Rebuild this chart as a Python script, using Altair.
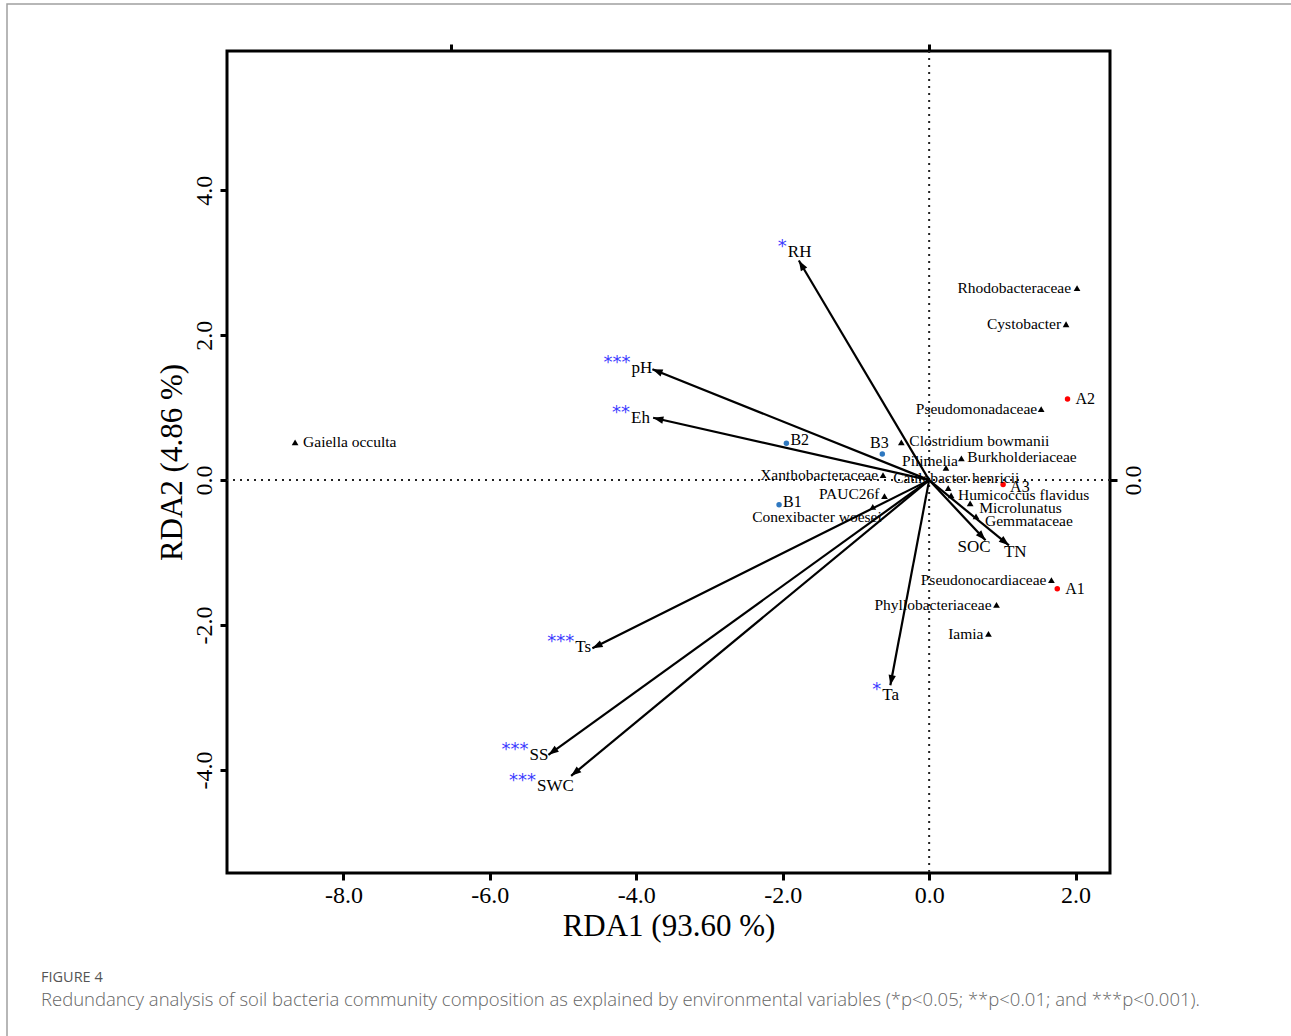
import math
import pandas as pd
import altair as alt

# ---------------- data ----------------
env_names = ["RH", "pH", "Eh", "Ts", "SS", "SWC", "Ta", "SOC", "TN"]
env_x = [-1.78, -3.78, -3.77, -4.60, -5.20, -4.89, -0.53, 0.77, 1.09]
env_y = [3.03, 1.53, 0.86, -2.32, -3.79, -4.08, -2.83, -0.83, -0.90]
env_sig = ["*", "***", "**", "***", "***", "***", "*", "", ""]

site_names = ["A1", "A2", "A3", "B1", "B2", "B3"]
site_x = [1.75, 1.89, 1.01, -2.05, -1.95, -0.64]
site_y = [-1.50, 1.12, -0.06, -0.34, 0.51, 0.36]
site_group = ["A", "A", "A", "B", "B", "B"]

sp_names = ["Gaiella occulta", "Rhodobacteraceae", "Cystobacter", "Pseudomonadaceae",
            "Clostridium bowmanii", "Burkholderiaceae", "Pilimelia", "Xanthobacteraceae",
            "Caulobacter henricii", "PAUC26f", "Conexibacter woesei", "Humicoccus flavidus",
            "Microlunatus", "Gemmataceae", "Pseudonocardiaceae", "Phyllobacteriaceae", "Iamia"]
sp_x = [-8.66, 2.02, 1.87, 1.53, -0.38, 0.44, 0.23, -0.63, 0.26, -0.61, -0.77, 0.30,
        0.56, 0.64, 1.67, 0.92, 0.81]
sp_y = [0.52, 2.65, 2.15, 0.98, 0.52, 0.30, 0.17, 0.07, -0.11, -0.22, -0.37, -0.21,
        -0.32, -0.50, -1.38, -1.72, -2.12]

x_ticks = [-8, -6, -4, -2, 0, 2]
y_ticks = [-4, -2, 0, 2, 4]
top_ticks = [-6.53, 0]

x_title = "RDA1 (93.60 %)"
y_title = "RDA2 (4.86 %)"
caption_head = "FIGURE 4"
caption = ("Redundancy analysis of soil bacteria community composition as explained by "
           "environmental variables (*p<0.05; **p<0.01; and ***p<0.001).")

# ---------------- layout / style ----------------
W, H = 883, 822
XMIN, XMAX = -9.59, 2.47
YMIN, YMAX = -5.42, 5.92
PXX = W / (XMAX - XMIN)
PXY = H / (YMAX - YMIN)
SERIF = "Liberation Serif"
STAR_BLUE = "#3c3cff"

# label nudges in pixels (dx right, dy down)
env_nudge = {"RH": (-11, -8), "pH": (-21, -1), "Eh": (-22, 0), "Ts": (-17, -1),
             "SS": (-19, 0), "SWC": (-34, 10), "Ta": (-8, 10), "SOC": (-28, 7),
             "TN": (-5, 7)}
site_place = {"A1": ("left", 8, 0), "A2": ("left", 8, 0), "A3": ("left", 7, 3),
              "B1": ("left", 4, -3), "B2": ("left", 4, -3), "B3": ("center", -3, -11)}
sp_place = {"Gaiella occulta": ("left", 8, 0), "Rhodobacteraceae": ("right", -6, 0),
            "Cystobacter": ("right", -5, 0), "Pseudomonadaceae": ("right", -4, 0),
            "Clostridium bowmanii": ("left", 8, -1), "Burkholderiaceae": ("left", 6, -1),
            "Pilimelia": ("right", 12, -7), "Xanthobacteraceae": ("right", -5, 0),
            "Caulobacter henricii": ("center", 8, -10), "PAUC26f": ("right", -5, -2),
            "Conexibacter woesei": ("right", 9, 10), "Humicoccus flavidus": ("left", 7, 0),
            "Microlunatus": ("left", 9, 5), "Gemmataceae": ("left", 9, 5),
            "Pseudonocardiaceae": ("right", -5, 0), "Phyllobacteriaceae": ("right", -5, 0),
            "Iamia": ("right", -5, 0)}

# ---------------- tables ----------------
env = pd.DataFrame({"name": env_names, "x": env_x, "y": env_y, "sig": env_sig})
env["x0"] = 0.0
env["y0"] = 0.0
env["ang"] = [math.degrees(math.atan2(a * PXX, b * PXY)) % 360 for a, b in zip(env_x, env_y)]
env["lx"] = [a + env_nudge[n][0] / PXX for a, n in zip(env_x, env_names)]
env["ly"] = [b - env_nudge[n][1] / PXY for b, n in zip(env_y, env_names)]

sites = pd.DataFrame({"name": site_names, "x": site_x, "y": site_y, "grp": site_group})
sites["align"] = [site_place[n][0] for n in site_names]
sites["lx"] = [a + site_place[n][1] / PXX for a, n in zip(site_x, site_names)]
sites["ly"] = [b - site_place[n][2] / PXY for b, n in zip(site_y, site_names)]

sp = pd.DataFrame({"name": sp_names, "x": sp_x, "y": sp_y})
sp["align"] = [sp_place[n][0] for n in sp_names]
sp["lx"] = [a + sp_place[n][1] / PXX for a, n in zip(sp_x, sp_names)]
sp["ly"] = [b - sp_place[n][2] / PXY for b, n in zip(sp_y, sp_names)]

xs = alt.Scale(domain=[XMIN, XMAX], nice=False, zero=False)
ys = alt.Scale(domain=[YMIN, YMAX], nice=False, zero=False)

fmt = "replace(format(datum.value, '.1f'), '\u2212', '-')"

x_axis = alt.Axis(values=x_ticks, labelExpr=fmt, grid=False, domain=False,
                  tickSize=7, tickWidth=3, tickColor="black",
                  labelFont=SERIF, labelFontSize=24, labelColor="black", labelPadding=3,
                  title=x_title, titleFont=SERIF, titleFontSize=31, titleFontWeight="normal",
                  titleColor="black", titlePadding=4)
y_axis = alt.Axis(values=y_ticks, labelExpr=fmt, grid=False, domain=False,
                  tickSize=7, tickWidth=3, tickColor="black",
                  labelFont=SERIF, labelFontSize=24, labelColor="black", labelPadding=4,
                  labelAngle=270, labelAlign="center", labelBaseline="bottom",
                  title=y_title, titleFont=SERIF, titleFontSize=31, titleFontWeight="normal",
                  titleColor="black", titlePadding=4)
top_axis = alt.Axis(orient="top", values=top_ticks, labels=False, grid=False, domain=False,
                    tickSize=7, tickWidth=3, tickColor="black", title=None)
right_axis = alt.Axis(orient="right", values=[0], labelExpr=fmt, grid=False, domain=False,
                      tickSize=7, tickWidth=3, tickColor="black",
                      labelFont=SERIF, labelFontSize=24, labelColor="black", labelPadding=4,
                      labelAngle=270, labelAlign="center", labelBaseline="top", title=None)

NOAX = None

vline = alt.Chart(pd.DataFrame({"x": [0.0]})).mark_rule(
    color="#222", strokeWidth=2, strokeDash=[2, 5]
).encode(x=alt.X("x:Q", scale=xs, axis=x_axis))

hline = alt.Chart(pd.DataFrame({"y": [0.0]})).mark_rule(
    color="#222", strokeWidth=2, strokeDash=[2, 5]
).encode(y=alt.Y("y:Q", scale=ys, axis=y_axis))

second_axes = alt.Chart(pd.DataFrame({"x": [0.0], "y": [0.0]})).mark_point(opacity=0).encode(
    x=alt.X("x:Q", scale=xs, axis=top_axis),
    y=alt.Y("y:Q", scale=ys, axis=right_axis),
)

arrows = alt.Chart(env).mark_rule(color="black", strokeWidth=2.2).encode(
    x=alt.X("x0:Q", scale=xs, axis=NOAX), y=alt.Y("y0:Q", scale=ys, axis=NOAX),
    x2="x:Q", y2="y:Q",
)
heads = alt.Chart(env).mark_point(
    shape="M0,0L-0.36,1L0.36,1Z", filled=True, color="black", opacity=1, size=420
).encode(
    x=alt.X("x:Q", scale=xs, axis=NOAX), y=alt.Y("y:Q", scale=ys, axis=NOAX),
    angle=alt.Angle("ang:Q", scale=None),
)
env_labels = alt.Chart(env).mark_text(
    font=SERIF, fontSize=17, color="black", align="left", baseline="middle"
).encode(
    x=alt.X("lx:Q", scale=xs, axis=NOAX), y=alt.Y("ly:Q", scale=ys, axis=NOAX), text="name:N"
)
env_stars = alt.Chart(env).mark_text(
    font="DejaVu Sans", fontSize=18, color=STAR_BLUE, align="right", baseline="middle", dy=-5, dx=-1
).encode(
    x=alt.X("lx:Q", scale=xs, axis=NOAX), y=alt.Y("ly:Q", scale=ys, axis=NOAX), text="sig:N"
)

site_pts = alt.Chart(sites).mark_circle(size=30, opacity=1).encode(
    x=alt.X("x:Q", scale=xs, axis=NOAX), y=alt.Y("y:Q", scale=ys, axis=NOAX),
    color=alt.Color("grp:N", scale=alt.Scale(domain=["A", "B"], range=["#ff0000", "#2e78c0"]),
                    legend=None),
)

sp_pts = alt.Chart(sp).mark_point(shape="triangle-up", filled=True, size=45, color="black",
                                   opacity=1).encode(
    x=alt.X("x:Q", scale=xs, axis=NOAX), y=alt.Y("y:Q", scale=ys, axis=NOAX),
)


def label_layer(df, align, size):
    return alt.Chart(df).transform_filter(alt.datum.align == align).mark_text(
        font=SERIF, fontSize=size, color="black", align=align, baseline="middle"
    ).encode(
        x=alt.X("lx:Q", scale=xs, axis=NOAX), y=alt.Y("ly:Q", scale=ys, axis=NOAX),
        text="name:N",
    )


sp_labels = [label_layer(sp, a, 15.5) for a in ["left", "right", "center"]]
site_labels = [label_layer(sites, a, 16) for a in ["left", "center"]]

# thin grey figure frame (runs off the right and bottom of the page)
outer = alt.Chart(pd.DataFrame({"k": [0]})).mark_rect(
    fillOpacity=0, stroke="#a0a0a0", strokeWidth=1.5
).encode(
    x=alt.value(-220), x2=alt.value(1291 - 227 + 20),
    y=alt.value(-47), y2=alt.value(1036 - 51 + 6),
)

chart = alt.layer(
    outer, vline, hline, second_axes, arrows, heads, sp_pts, site_pts,
    env_stars, env_labels, *sp_labels, *site_labels,
).resolve_axis(x="independent", y="independent").properties(
    width=W, height=H,
    autosize=alt.AutoSizeParams(type="none"),
    padding={"left": 227, "top": 51, "right": 1291 - 227 - W, "bottom": 1036 - 51 - H},
    title=alt.TitleParams(
        text=caption_head, subtitle=caption, orient="bottom", anchor="start", frame="group",
        dx=-186, offset=-72, font="Open Sans", fontSize=14.5, fontWeight=500, color="#555555",
        subtitleFont="Open Sans", subtitleFontSize=18.5, subtitleColor="#666666",
        subtitleFontWeight=300, subtitlePadding=6,
    ),
).configure_view(stroke="black", strokeWidth=3)

chart.save("out.html", embed_options={"renderer": "svg", "actions": False})
